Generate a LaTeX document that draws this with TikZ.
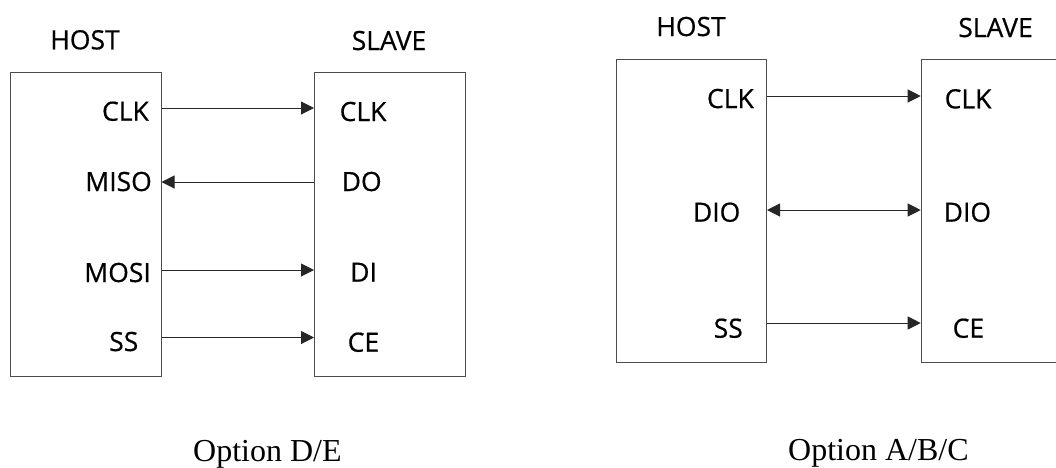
\documentclass[tikz,border=0pt]{standalone}
\usepackage{fontspec}
\setmainfont{Liberation Serif}
\newfontfamily\labfont[FakeBold=0.6]{Open Sans}
\usetikzlibrary{arrows.meta}
\tikzset{
  box/.style={draw=black!70, line width=1pt, fill=none},
  lab/.style={inner sep=0pt, font=\labfont\fontsize{26.5}{30}\selectfont, text=black},
  captext/.style={inner sep=0pt, font=\fontsize{32}{36}\selectfont},
  sig/.style={draw=black!85, line width=1pt, -{Triangle[length=13pt,width=13pt]}},
  bsig/.style={draw=black!85, line width=1pt, {Triangle[length=13pt,width=13pt]}-{Triangle[length=13pt,width=13pt]}},
}
\begin{document}
\begin{tikzpicture}[x=1pt,y=-1pt]
\clip (0,0) rectangle (1056,467);
\fill[white] (0,0) rectangle (1056,467);
% ---------- Left diagram (Option D/E) ----------
\node[box, minimum width=151pt, minimum height=304pt, anchor=north west] (hostL) at (9.5,72) {};
\node[box, minimum width=151pt, minimum height=304pt, anchor=north west] (slaveL) at (314,72) {};
\node[lab, anchor=base] (hostLt) at (85,49.3) {HOST};
\node[lab, anchor=base] (slaveLt) at (389,50) {SLAVE};
\node[lab, anchor=base east] (lhclk) at (149,120.7) {CLK};
\node[lab, anchor=base east] (lhmiso) at (152,191) {MISO};
\node[lab, anchor=base east] (lhmosi) at (151,282) {MOSI};
\node[lab, anchor=base east] (lhss) at (138.5,351) {SS};
\node[lab, anchor=base west] (lsclk) at (339.5,121) {CLK};
\node[lab, anchor=base west] (lsdo) at (341.5,191) {DO};
\node[lab, anchor=base west] (lsdi) at (350,281.7) {DI};
\node[lab, anchor=base west] (lsce) at (347.5,351.7) {CE};
\coordinate (lh1) at (hostL.east |- 0,108);
\coordinate (ls1) at (slaveL.west |- 0,108);
\coordinate (lh2) at (hostL.east |- 0,182);
\coordinate (ls2) at (slaveL.west |- 0,182);
\coordinate (lh3) at (hostL.east |- 0,270);
\coordinate (ls3) at (slaveL.west |- 0,270);
\coordinate (lh4) at (hostL.east |- 0,337.5);
\coordinate (ls4) at (slaveL.west |- 0,337.5);
\draw[sig] (lh1) -- (ls1);
\draw[sig] (ls2) -- (lh2);
\draw[sig] (lh3) -- (ls3);
\draw[sig] (lh4) -- (ls4);
\node[captext, anchor=base west] (capL) at (193,461.5) {Option D/E};
% ---------- Right diagram (Option A/B/C) ----------
\node[box, minimum width=150pt, minimum height=303pt, anchor=north west] (hostR) at (616,59.3) {};
\node[box, minimum width=160pt, minimum height=303pt, anchor=north west] (slaveR) at (920.7,59.3) {};
\node[lab, anchor=base] (hostRt) at (691,36) {HOST};
\node[lab, anchor=base] (slaveRt) at (995.5,37) {SLAVE};
\node[lab, anchor=base east] (rhclk) at (754,108) {CLK};
\node[lab, anchor=base east] (rhdio) at (740.5,221.7) {DIO};
\node[lab, anchor=base east] (rhss) at (743,337.7) {SS};
\node[lab, anchor=base west] (rsclk) at (944.5,108.3) {CLK};
\node[lab, anchor=base west] (rsdio) at (943.5,221.7) {DIO};
\node[lab, anchor=base west] (rsce) at (952.5,337.7) {CE};
\coordinate (rh1) at (hostR.east |- 0,96);
\coordinate (rs1) at (slaveR.west |- 0,96);
\coordinate (rh2) at (hostR.east |- 0,210);
\coordinate (rs2) at (slaveR.west |- 0,210);
\coordinate (rh3) at (hostR.east |- 0,323);
\coordinate (rs3) at (slaveR.west |- 0,323);
\draw[sig] (rh1) -- (rs1);
\draw[bsig] (rh2) -- (rs2);
\draw[sig] (rh3) -- (rs3);
\node[captext, anchor=base west] (capR) at (788,460) {Option A/B/C};
\end{tikzpicture}
\end{document}
